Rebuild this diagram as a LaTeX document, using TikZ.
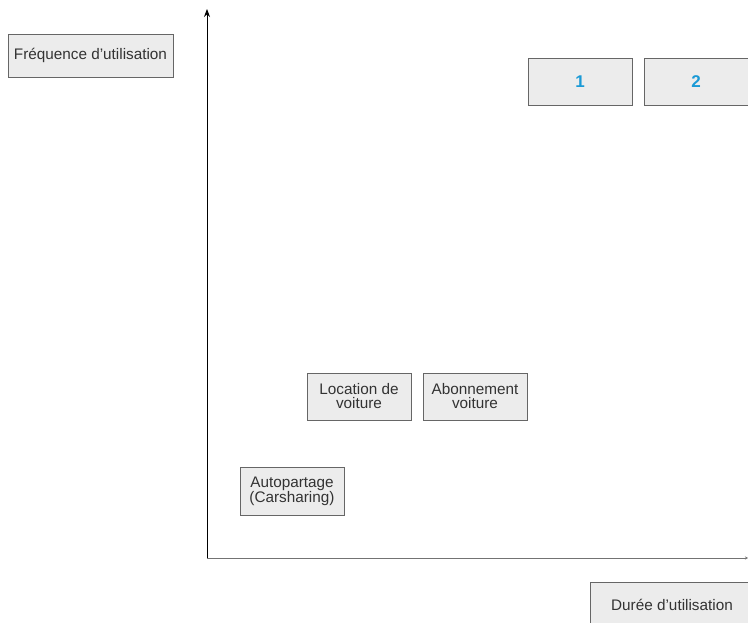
\documentclass[tikz,border=0pt]{standalone}
\usepackage{fontspec}
\setmainfont{Liberation Sans}
\usetikzlibrary{arrows.meta}
\definecolor{boxfill}{HTML}{ECECEC}
\definecolor{boxline}{HTML}{666666}
\definecolor{numblue}{HTML}{1A9AD6}
\begin{document}
\begin{tikzpicture}[x=1pt,y=-1pt,
  lab/.style={draw=boxline,fill=boxfill,line width=0.9pt,inner sep=0pt,align=center,
    font=\fontsize{15.3}{14}\selectfont,text=black!80},
  num/.style={lab,font=\bfseries\fontsize{17}{17}\selectfont,text=numblue}]
\clip (0,0) rectangle (748,623);
\useasboundingbox (0,0) rectangle (748,623);
\coordinate (O) at (207,558);
\coordinate (Ytop) at (207,9);
\coordinate (Xend) at (748,558);
\draw[line width=0.9pt,-{Stealth[length=8pt,width=6pt]}] (O) -- (Ytop);
\draw[line width=1pt,black!55,-{Stealth[length=3pt,width=3pt]}] (O) -- (Xend);
\node[lab,minimum width=165pt,minimum height=43pt] (freq) at (90.5,55.5) {Fréquence d'utilisation};
\node[num,minimum width=104pt,minimum height=47pt] (n1) at (580,81.5) {1};
\node[num,minimum width=104pt,minimum height=47pt] (n2) at (696,81.5) {2};
\node[lab,minimum width=104pt,minimum height=47pt] (loc) at (359,396.5) {Location de\\voiture};
\node[lab,minimum width=104pt,minimum height=47pt] (abo) at (475,396.5) {Abonnement\\voiture};
\node[lab,minimum width=104pt,minimum height=48pt] (auto) at (292,491) {Autopartage\\(Carsharing)};
\node[lab,minimum width=164pt,minimum height=46pt] (duree) at (672,605) {Durée d’utilisation};
\end{tikzpicture}
\end{document}
